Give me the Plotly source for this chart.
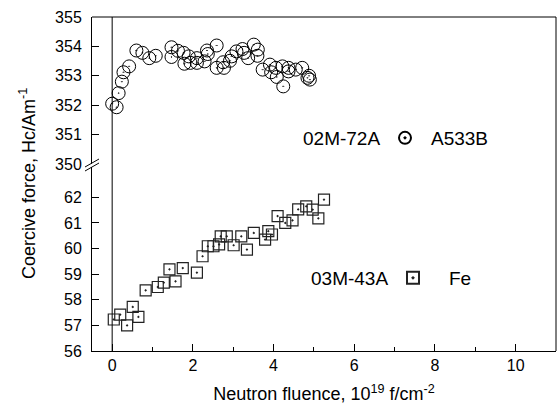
import plotly.graph_objects as go

# Upper series: 02M-72A (A533B), open circles
a533_x = [0.0, 0.11, 0.16, 0.24, 0.28, 0.42, 0.6, 0.75, 0.92, 1.08, 1.47, 1.47, 1.63, 1.77, 1.79,
          1.90, 1.94, 2.10, 2.10, 2.29, 2.35, 2.37, 2.59, 2.59, 2.75, 2.77, 2.92, 2.96, 3.08, 3.23,
          3.27, 3.37, 3.51, 3.61, 3.60, 3.73, 3.91, 3.94, 4.06, 4.08, 4.24, 4.22, 4.37, 4.37, 4.55,
          4.71, 4.84, 4.88, 4.90]
a533_y = [352.05, 351.93, 352.41, 352.80, 353.12, 353.32, 353.86, 353.78, 353.60, 353.68, 353.97, 353.64,
          353.85, 353.78, 353.41, 353.66, 353.44, 353.60, 353.44, 353.49, 353.86, 353.74, 354.03, 353.27,
          353.46, 353.27, 353.51, 353.66, 353.83, 353.91, 353.78, 353.60, 354.06, 353.89, 353.68, 353.21,
          353.38, 353.12, 353.27, 352.96, 352.64, 353.32, 353.27, 353.15, 353.21, 353.27, 352.93, 353.00,
          352.87]

# Lower series: 03M-43A (Fe), open squares
fe_x = [0.04, 0.20, 0.37, 0.51, 0.65, 0.83, 1.13, 1.28, 1.42, 1.57, 1.75, 2.10, 2.24, 2.37, 2.51,
        2.65, 2.69, 2.84, 3.01, 3.20, 3.34, 3.51, 3.79, 3.87, 3.96, 4.10, 4.29, 4.47, 4.61, 4.81,
        4.97, 5.11, 5.25]
fe_y = [57.23, 57.42, 57.00, 57.72, 57.33, 58.37, 58.50, 58.67, 59.19, 58.72, 59.24, 59.06, 59.70,
        60.09, 60.09, 60.16, 60.48, 60.48, 60.13, 60.48, 59.96, 60.61, 60.35, 60.68, 60.55, 61.27,
        61.00, 61.10, 61.53, 61.65, 61.52, 61.18, 61.91]

upper_ticks = [350, 351, 352, 353, 354, 355]
lower_ticks = [56, 57, 58, 59, 60, 61, 62]
x_ticks = [0, 2, 4, 6, 8, 10]

FONT = "Liberation Sans, Arial, sans-serif"
W, H = 558, 410
L, R, T, B = 92, 2, 17, 59
PW, PH = W - L - R, H - T - B


def px(xp):
    return (xp - L) / PW


def py(yp):
    return (H - B - yp) / PH


fig = go.Figure()
fig.add_trace(go.Scatter(
    x=a533_x, y=a533_y, mode="markers", name="A533B", xaxis="x2", yaxis="y2", showlegend=True,
    marker=dict(symbol="circle-open-dot", size=13, color="black", line=dict(width=1)),
    legend="legend"))
fig.add_trace(go.Scatter(
    x=fe_x, y=fe_y, mode="markers", name="Fe", xaxis="x", yaxis="y", showlegend=True,
    marker=dict(symbol="square-open-dot", size=11, color="#222", line=dict(width=1.2)),
    legend="legend2"))

axis_common = dict(showgrid=False, zeroline=False, linecolor="black", linewidth=1,
                   tickcolor="black", tickfont=dict(family=FONT, size=16, color="black"))

fig.update_layout(
    width=W, height=H, margin=dict(l=L, r=R, t=T, b=B),
    paper_bgcolor="white", plot_bgcolor="white", showlegend=True,
    font=dict(family=FONT, color="black"),
    xaxis=dict(range=[-0.5, 11], domain=[0, 1], anchor="y", tickvals=x_ticks, showline=True,
               ticks="inside", ticklen=7,
               minor=dict(dtick=1, tick0=0, ticks="inside", ticklen=4, tickcolor="black"),
               title=dict(text="Neutron fluence, 10<sup>19</sup> f/cm<sup>-2</sup>",
                          font=dict(family=FONT, size=18), standoff=14),
               **axis_common),
    xaxis2=dict(range=[-0.5, 11], domain=[0, 1], anchor="y2", matches="x", showticklabels=False,
                showline=False, ticks="", **{k: v for k, v in axis_common.items() if k != "tickfont"}),
    yaxis=dict(range=[56, 63.2], domain=[0, 0.552], anchor="x", tickvals=lower_ticks, showline=True,
               ticks="inside", ticklen=7, ticklabelstandoff=6, **axis_common),
    yaxis2=dict(range=[350, 355], domain=[0.56, 1], anchor="x2", tickvals=upper_ticks, showline=True,
                ticks="inside", ticklen=7, ticklabelstandoff=6, **axis_common),
    legend=dict(x=px(379), y=py(138), xanchor="left", yanchor="middle", bgcolor="rgba(0,0,0,0)",
                font=dict(family=FONT, size=19), itemsizing="constant", itemwidth=42),
    legend2=dict(x=px(377), y=py(278), xanchor="left", yanchor="middle", bgcolor="rgba(0,0,0,0)",
                 font=dict(family=FONT, size=19), itemsizing="constant", itemwidth=62),
)

fig.add_annotation(text="Coercive force, Hc/Am<sup>-1</sup>", textangle=-90, xref="paper", yref="paper",
                   x=px(27), y=0.5, xanchor="center", yanchor="middle", showarrow=False,
                   font=dict(family=FONT, size=18))
fig.add_annotation(text="02M-72A", xref="paper", yref="paper", x=px(341), y=py(138),
                   xanchor="center", yanchor="middle", showarrow=False, font=dict(family=FONT, size=19))
fig.add_annotation(text="03M-43A", xref="paper", yref="paper", x=px(349), y=py(278),
                   xanchor="center", yanchor="middle", showarrow=False, font=dict(family=FONT, size=19))

# frame: top and right borders, vertical line at x=0
fig.add_shape(type="line", xref="paper", yref="paper", x0=0, x1=1, y0=1, y1=1,
              line=dict(color="black", width=1))
fig.add_shape(type="line", xref="paper", yref="paper", x0=1, x1=1, y0=0, y1=1,
              line=dict(color="black", width=1))
fig.add_shape(type="line", xref="x", yref="paper", x0=0, x1=0, y0=0, y1=1,
              line=dict(color="black", width=1))
# axis break marks
for dy in (0, 4):
    fig.add_shape(type="line", xref="paper", yref="paper", x0=px(85), x1=px(99),
                  y0=py(169 + dy - 2), y1=py(161 + dy - 2), line=dict(color="black", width=1))

fig.write_html("out.html")
